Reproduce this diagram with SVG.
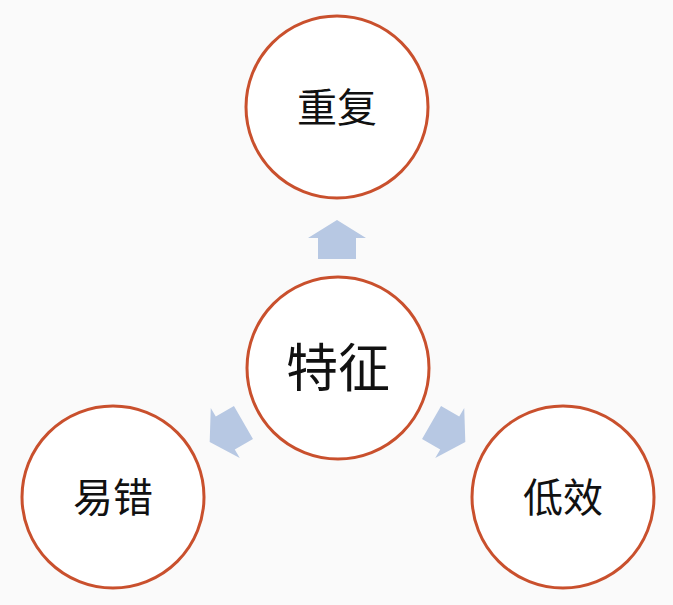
<svg xmlns="http://www.w3.org/2000/svg" width="673" height="605" viewBox="0 0 673 605">
<style>
circle{fill:#fff;stroke:#c9502d;stroke-width:3}
text{font-family:"Noto Sans CJK SC",sans-serif;fill:#111;text-anchor:middle}
.s{font-size:40px}
.b{font-size:52px}
.a{fill:#b7c8e3}
</style>
<defs><path id="arr" class="a" d="M0,-20 L29,-2 L19,-2 L19,19 L-19,19 L-19,-2 L-29,-2 Z"/></defs>
<rect width="673" height="605" fill="#fafafa"/>
<g id="connectors">
<use href="#arr" transform="translate(337,240)"/>
<use href="#arr" transform="translate(227,432) rotate(-120)"/>
<use href="#arr" transform="translate(448,432) rotate(120)"/>
</g>
<g id="top"><circle cx="337" cy="107" r="91"/><text class="s" x="337" y="122">重复</text></g>
<g id="center"><circle cx="338" cy="368" r="91"/><text class="b" x="338" y="387">特征</text></g>
<g id="left"><circle cx="113" cy="497" r="91"/><text class="s" x="113" y="512">易错</text></g>
<g id="right"><circle cx="563" cy="497" r="91"/><text class="s" x="563" y="512">低效</text></g>
</svg>
